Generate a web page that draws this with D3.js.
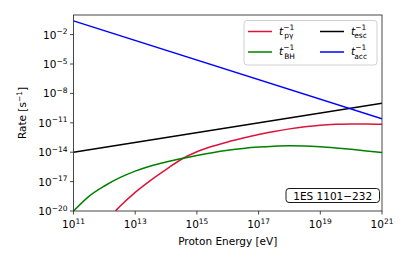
<!DOCTYPE html>
<html>
<head>
<meta charset="utf-8">
<script src="https://cdn.jsdelivr.net/npm/d3@7"></script>
<style>
  body { margin: 0; background: #fff; }
  text { font-family: "DejaVu Sans", sans-serif; }
</style>
</head>
<body>
<script>
// log10 of proton energy [eV]
const logE = [11, 11.5, 12, 12.5, 13, 13.5, 14, 14.5, 15, 15.5, 16, 16.5, 17, 17.5, 18, 18.5, 19, 19.5, 20, 20.5, 21];
// log10 rates [s^-1]
const bhRate = [-20, -18.5, -17.45, -16.6, -15.93, -15.4, -15.0, -14.65, -14.33, -14.05, -13.81, -13.62, -13.48, -13.39, -13.35, -13.37, -13.45, -13.57, -13.71, -13.87, -14.04];
const pgLogE = [12.36, 12.5, 13, 13.5, 14, 14.5, 15, 15.5, 16, 16.5, 17, 17.5, 18, 18.5, 19, 19.5, 20, 20.5, 21];
const pgRate = [-20, -19.55, -18.1, -16.87, -15.77, -14.72, -13.96, -13.4, -12.95, -12.56, -12.2, -11.89, -11.62, -11.4, -11.24, -11.15, -11.11, -11.11, -11.15];
const escLogE = [11, 21];
const escRate = [-14.0, -9.0];
const accLogE = [11, 21];
const accRate = [-0.6, -10.6];

const xTicks = [11, 13, 15, 17, 19, 21];
const yTicks = [-2, -5, -8, -11, -14, -17, -20];
const sourceName = "1ES 1101\u2212232";

const W = 407, H = 262;
const m = { left: 73.5, top: 15, right: 25, bottom: 51 };
const iw = W - m.left - m.right, ih = H - m.top - m.bottom;

const svg = d3.select('body').append('svg')
    .attr('width', W).attr('height', H);

const x = d3.scaleLinear().domain([11, 21]).range([0, iw]);
const y = d3.scaleLinear().domain([-20, 0]).range([ih, 0]);

const g = svg.append('g').attr('transform', `translate(${m.left},${m.top})`);

g.append('clipPath').attr('id', 'clip')
    .append('rect').attr('width', iw).attr('height', ih);

const line = d3.line()
    .x(d => x(d[0])).y(d => y(d[1]))
    .curve(d3.curveMonotoneX);

const series = [
    { e: pgLogE, r: pgRate, color: '#dc143c' },
    { e: logE, r: bhRate, color: 'green' },
    { e: escLogE, r: escRate, color: 'black' },
    { e: accLogE, r: accRate, color: 'blue' }
];

g.append('g').attr('clip-path', 'url(#clip)')
    .selectAll('path')
    .data(series)
    .enter()
    .append('path')
    .attr('d', s => line(s.e.map((v, i) => [v, s.r[i]])))
    .attr('fill', 'none')
    .attr('stroke', s => s.color)
    .attr('stroke-width', 1.5);

// frame
g.append('rect')
    .attr('width', iw).attr('height', ih)
    .attr('fill', 'none')
    .attr('stroke', '#333')
    .attr('stroke-width', 0.9);

function powLabel(sel, exp) {
    sel.append('tspan').text('10');
    sel.append('tspan')
        .attr('font-size', '7.5px')
        .attr('dy', -4.5)
        .text(exp < 0 ? '\u2212' + (-exp) : exp);
}

// x ticks
const xt = g.append('g').attr('transform', `translate(0,${ih})`)
    .selectAll('g').data(xTicks).enter().append('g')
    .attr('transform', d => `translate(${x(d)},0)`);
xt.append('line').attr('y2', 3.5).attr('stroke', '#333').attr('stroke-width', 0.9);
xt.append('text')
    .attr('y', 17).attr('text-anchor', 'middle')
    .attr('font-size', '10.5px')
    .each(function(d) { powLabel(d3.select(this), d); });

// y ticks
const yt = g.append('g')
    .selectAll('g').data(yTicks).enter().append('g')
    .attr('transform', d => `translate(0,${y(d)})`);
yt.append('line').attr('x2', -3.5).attr('stroke', '#333').attr('stroke-width', 0.9);
yt.append('text')
    .attr('x', -6).attr('y', 4).attr('text-anchor', 'end')
    .attr('font-size', '10.5px')
    .each(function(d) { powLabel(d3.select(this), d); });

// axis labels
svg.append('text')
    .attr('x', m.left + iw / 2).attr('y', 245)
    .attr('text-anchor', 'middle')
    .attr('font-size', '10.5px')
    .text('Proton Energy [eV]');

const yl = svg.append('text')
    .attr('transform', `translate(26,${m.top + ih / 2}) rotate(-90)`)
    .attr('text-anchor', 'middle')
    .attr('font-size', '10.5px');
yl.append('tspan').text('Rate [s');
yl.append('tspan').attr('font-size', '7.5px').attr('dy', -4.5).text('\u22121');
yl.append('tspan').attr('dy', 4.5).text(']');

// legend
const legendItems = [
    { sub: 'p\u03b3', color: '#dc143c', col: 0, row: 0 },
    { sub: 'BH', color: 'green', col: 0, row: 1 },
    { sub: 'esc', color: 'black', col: 1, row: 0 },
    { sub: 'acc', color: 'blue', col: 1, row: 1 }
];
const lg = svg.append('g');
lg.append('rect')
    .attr('x', 244).attr('y', 20.5).attr('width', 133).attr('height', 44.5)
    .attr('rx', 3).attr('fill', 'white').attr('fill-opacity', 0.8)
    .attr('stroke', '#ccc').attr('stroke-width', 0.9);
const li = lg.selectAll('g.item').data(legendItems).enter().append('g')
    .attr('transform', d => `translate(${248 + d.col * 72},${31.5 + d.row * 20.5})`);
li.append('line').attr('x1', 0).attr('x2', 24)
    .attr('stroke', d => d.color).attr('stroke-width', 1.5);
const lt = li.append('text').attr('x', 31).attr('y', 3).attr('font-size', '10.5px');
lt.append('tspan').attr('font-style', 'italic').text('t');
lt.append('tspan').attr('font-size', '7.5px').attr('dy', -5).text('\u22121');
lt.append('tspan').attr('font-size', '7.5px').attr('dy', 8.5).attr('dx', d => -(d.sub.length > 2 ? 12 : 10)).text(d => d.sub);

// source annotation
const ann = svg.append('g');
ann.append('rect')
    .attr('x', 286).attr('y', 188.5).attr('width', 93.5).attr('height', 14)
    .attr('rx', 3).attr('fill', 'white')
    .attr('stroke', 'black').attr('stroke-width', 0.9);
ann.append('text')
    .attr('x', 332.7).attr('y', 199.5)
    .attr('text-anchor', 'middle')
    .attr('font-size', '10.5px')
    .text(sourceName);
</script>
</body>
</html>
